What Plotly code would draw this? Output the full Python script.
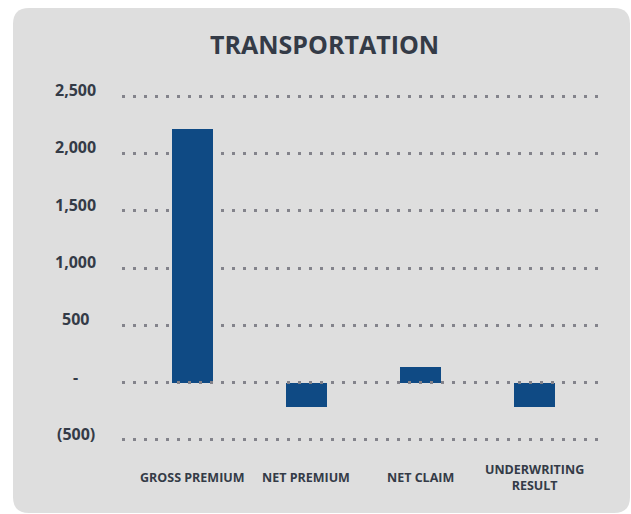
import plotly.graph_objects as go

# Chart data
categories = ["GROSS PREMIUM", "NET PREMIUM", "NET CLAIM", "UNDERWRITING RESULT"]
category_labels = ["GROSS PREMIUM", "NET PREMIUM", "NET CLAIM", "UNDERWRITING<br>RESULT"]
values = [2215, -215, 140, -215]
tick_values = [2500, 2000, 1500, 1000, 500, 0, -500]
tick_labels = ["2,500", "2,000", "1,500", "1,000", "500", "-", "(500)"]
title_text = "TRANSPORTATION"

# Styling
W, H = 631, 514
M_L, M_R, M_T, M_B = 122, 26, 95, 73
PLOT_W = W - M_L - M_R
PLOT_H = H - M_T - M_B
BAR_COLOR = "#0f4a84"
DOT_COLOR = "#83838b"
TEXT_COLOR = "#343b47"
PANEL_COLOR = "#dedede"
FONT = "Open Sans"


def px_to_paper_x(px):
    return (px - M_L) / PLOT_W


def px_to_paper_y(py):
    return (H - M_B - py) / PLOT_H


def rounded_rect_path(x0, y0, x1, y1, r):
    # x0,y0 top-left; x1,y1 bottom-right in pixels -> paper-coordinate SVG path
    X = px_to_paper_x
    Y = px_to_paper_y
    return (
        f"M {X(x0 + r)},{Y(y0)} L {X(x1 - r)},{Y(y0)} "
        f"Q {X(x1)},{Y(y0)} {X(x1)},{Y(y0 + r)} "
        f"L {X(x1)},{Y(y1 - r)} Q {X(x1)},{Y(y1)} {X(x1 - r)},{Y(y1)} "
        f"L {X(x0 + r)},{Y(y1)} Q {X(x0)},{Y(y1)} {X(x0)},{Y(y1 - r)} "
        f"L {X(x0)},{Y(y0 + r)} Q {X(x0)},{Y(y0)} {X(x0 + r)},{Y(y0)} Z"
    )


fig = go.Figure(
    go.Bar(
        x=categories,
        y=values,
        marker=dict(color=BAR_COLOR, line=dict(width=0)),
        width=0.36,
        hoverinfo="x+y",
    )
)

annotations = []
# Value-axis labels, centred in their column
for v, t in zip(tick_values, tick_labels):
    annotations.append(
        dict(
            x=px_to_paper_x(75.5), xref="paper", y=v, yref="y",
            text=t, showarrow=False, xanchor="center", yanchor="middle",
            yshift=6,
            font=dict(family=FONT, size=16, color=TEXT_COLOR, weight="bold"),
        )
    )
# Category labels, vertically centred under each bar
for c, t in zip(categories, category_labels):
    annotations.append(
        dict(
            x=c, xref="x", y=px_to_paper_y(477), yref="paper",
            text=t, showarrow=False, xanchor="center", yanchor="middle",
            font=dict(family=FONT, size=12.5, color=TEXT_COLOR, weight="bold"),
        )
    )
# Title
annotations.append(
    dict(
        x=px_to_paper_x(324.5), xref="paper", y=px_to_paper_y(44), yref="paper",
        text=title_text, showarrow=False, xanchor="center", yanchor="middle",
        font=dict(family=FONT, size=25, color=TEXT_COLOR, weight="bold"),
    )
)

shapes = [
    # Rounded grey panel behind the chart
    dict(
        type="path", xref="paper", yref="paper",
        path=rounded_rect_path(13, 8, 630, 513, 16),
        fillcolor=PANEL_COLOR, line=dict(width=0), layer="below",
    ),
    # Dotted baseline drawn over the bars
    dict(
        type="line", xref="paper", yref="y", x0=0, x1=1, y0=0, y1=0,
        line=dict(color=DOT_COLOR, width=3, dash="3px,8px"), layer="above",
    ),
]

fig.update_layout(
    width=W, height=H,
    margin=dict(l=M_L, r=M_R, t=M_T, b=M_B, pad=0),
    paper_bgcolor="white",
    plot_bgcolor="rgba(0,0,0,0)",
    showlegend=False,
    bargap=0,
    font=dict(family=FONT, color=TEXT_COLOR),
    annotations=annotations,
    shapes=shapes,
    xaxis=dict(
        range=[-0.618, 3.618], showticklabels=False, showgrid=False,
        zeroline=False, showline=False, ticks="", fixedrange=True,
    ),
    yaxis=dict(
        range=[-510, 2510], tickvals=tick_values, showticklabels=False,
        showgrid=True, gridcolor=DOT_COLOR, gridwidth=3, griddash="3px,8px",
        zeroline=False, showline=False, ticks="", fixedrange=True,
    ),
)

fig.write_html("out.html")
